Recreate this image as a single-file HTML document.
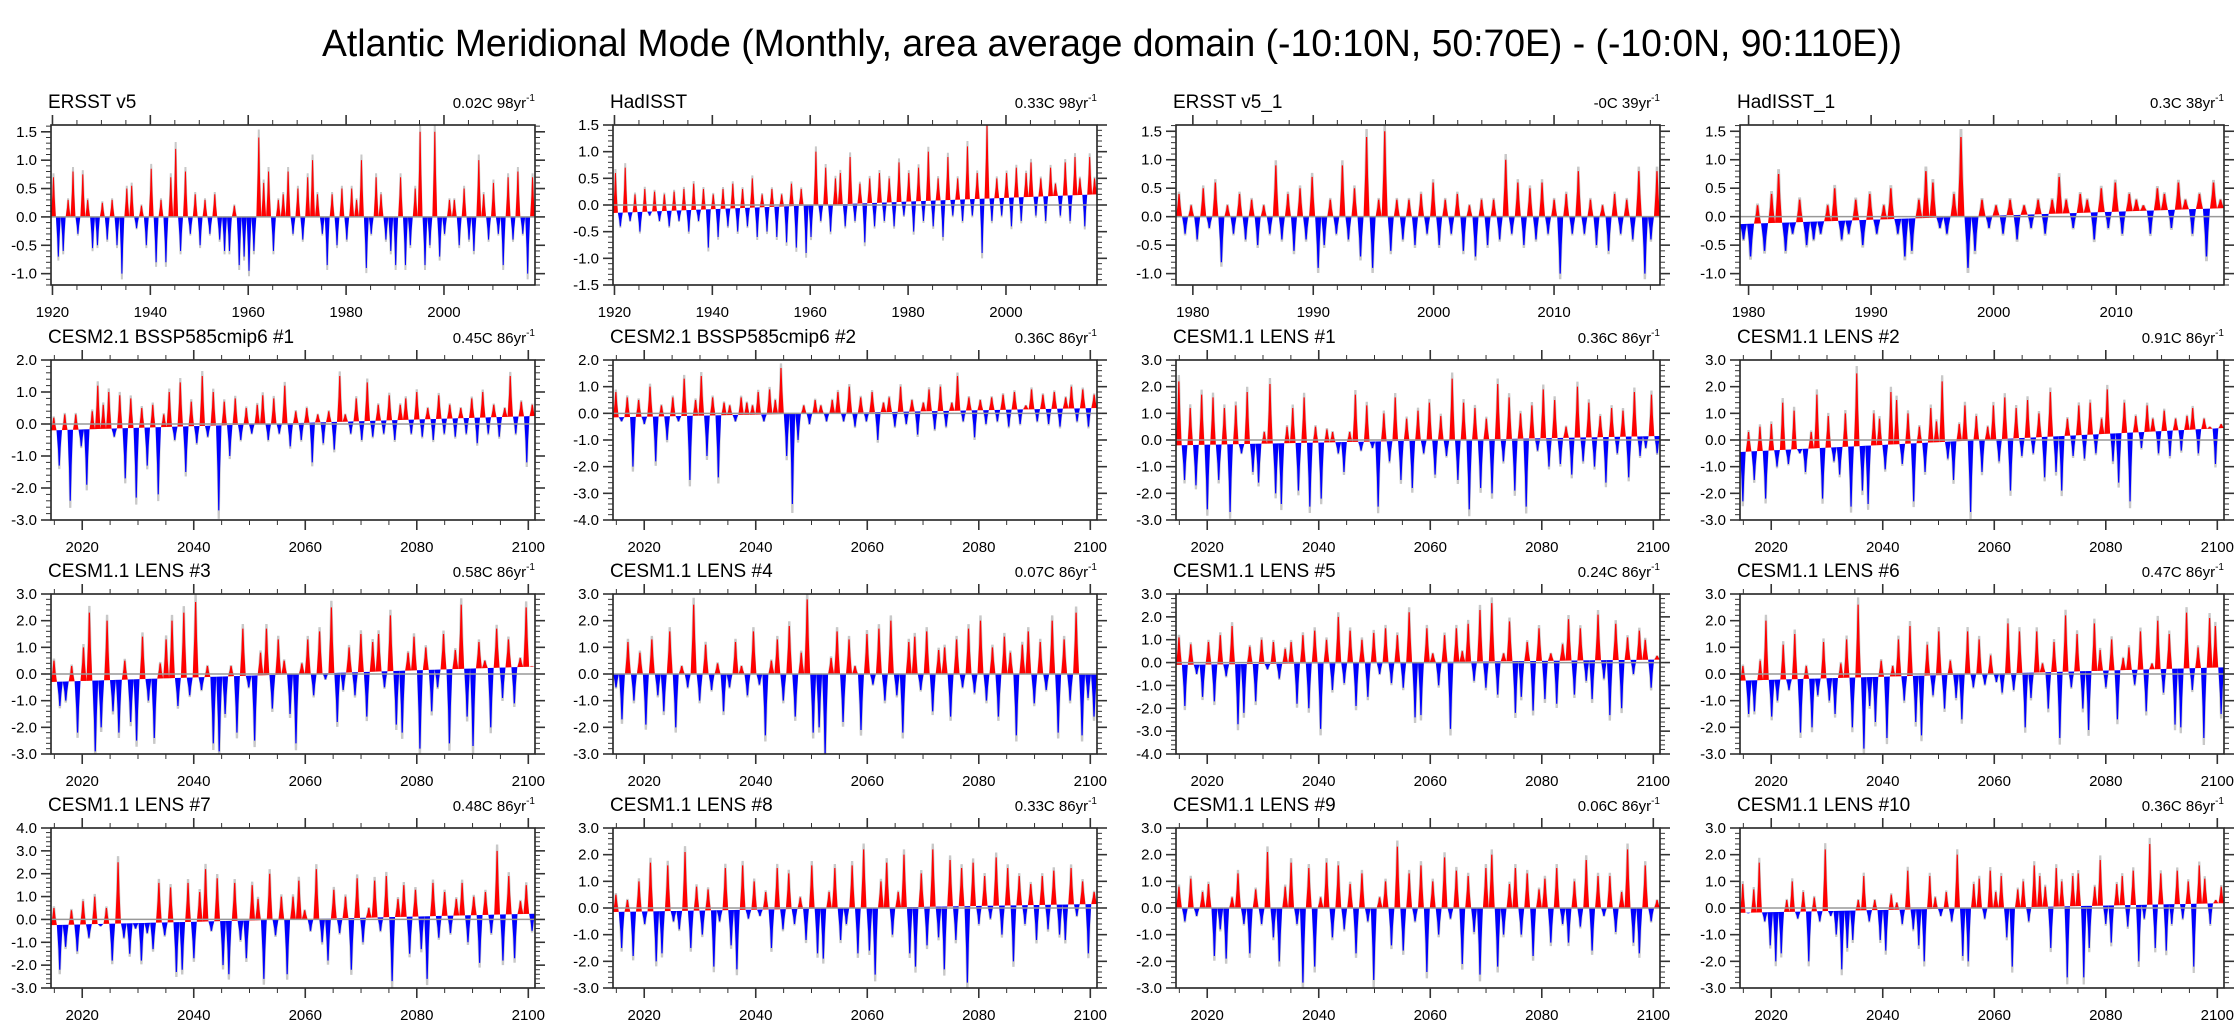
<!DOCTYPE html>
<html><head><meta charset="utf-8"><style>
html,body{margin:0;padding:0;background:#fff;}
svg{display:block;font-family:"Liberation Sans",Arial,sans-serif;}
</style></head><body>
<svg id="chart" width="2236" height="1026" viewBox="0 0 2236 1026" xmlns="http://www.w3.org/2000/svg">
<text x="1112" y="56" font-size="38" text-anchor="middle" textLength="1580" lengthAdjust="spacingAndGlyphs">Atlantic Meridional Mode (Monthly, area average domain (-10:10N, 50:70E) - (-10:0N, 90:110E))</text>
</svg>
<script>
// ---- data ----
const panelTitles = ["ERSST v5","HadISST","ERSST v5_1","HadISST_1","CESM2.1 BSSP585cmip6 #1","CESM2.1 BSSP585cmip6 #2","CESM1.1 LENS #1","CESM1.1 LENS #2","CESM1.1 LENS #3","CESM1.1 LENS #4","CESM1.1 LENS #5","CESM1.1 LENS #6","CESM1.1 LENS #7","CESM1.1 LENS #8","CESM1.1 LENS #9","CESM1.1 LENS #10"];
const trendLabels = ["0.02C 98yr","0.33C 98yr","-0C 39yr","0.3C 38yr","0.45C 86yr","0.36C 86yr","0.36C 86yr","0.91C 86yr","0.58C 86yr","0.07C 86yr","0.24C 86yr","0.47C 86yr","0.48C 86yr","0.33C 86yr","0.06C 86yr","0.36C 86yr"];
const yMins = [-1.2,-1.5,-1.2,-1.2,-3,-4,-3,-3,-3,-3,-4,-3,-3,-3,-3,-3];
const yMaxs = [1.62,1.5,1.61,1.61,2,2,3,3,3,3,3,3,4,3,3,3];
const xStarts = [1919.7,1919.7,1978.6,1979.3,2014.4,2014.4,2014.4,2014.4,2014.4,2014.4,2014.4,2014.4,2014.4,2014.4,2014.4,2014.4];
const xEnds = [2018.6,2018.6,2018.8,2018.8,2101.2,2101.2,2101.2,2101.2,2101.2,2101.2,2101.2,2101.2,2101.2,2101.2,2101.2,2101.2];
const trendStart = [0,-0.15,0,-0.13,-0.2,-0.15,-0.2,-0.45,-0.3,0,-0.1,-0.25,-0.25,-0.15,0,-0.18];
const trendEnd = [0,0.2,0,0.15,0.25,0.2,0.15,0.45,0.28,0,0.13,0.25,0.25,0.15,0,0.18];
const s1 = [0.7,-0.7,-0.6,0.3,0.8,-0.3,0.75,0.3,-0.55,-0.5,0.25,-0.4,0.3,-0.5,-1.0,0.5,0.55,-0.2,0.2,-0.5,0.85,-0.8,0.3,-0.8,0.7,1.2,-0.6,0.8,-0.3,0.4,-0.5,0.3,-0.3,0.4,-0.4,-0.6,-0.6,0.2,-0.85,-0.7,-0.95,-0.6,1.4,0.6,0.8,-0.6,0.3,0.4,0.8,-0.3,0.5,-0.4,0.7,1.0,0.4,-0.3,-0.85,0.4,-0.5,0.5,-0.4,0.5,0.3,1.0,-0.9,-0.3,0.7,0.4,-0.4,-0.6,-0.85,0.7,-0.85,-0.5,0.5,1.5,-0.85,-0.5,1.5,-0.7,-0.3,0.3,0.3,-0.5,0.5,-0.4,-0.6,1.0,0.4,-0.4,0.6,-0.3,-0.85,0.7,-0.4,0.8,-0.3,-1.0,0.7];
const s2 = [0.6,-0.4,0.7,-0.3,0.2,-0.5,0.3,-0.2,0.25,-0.3,0.2,-0.4,0.25,-0.3,0.3,-0.5,0.4,-0.3,0.3,-0.8,0.2,-0.6,0.3,-0.4,0.4,-0.5,0.3,-0.4,0.5,-0.6,0.2,-0.5,0.3,-0.6,0.2,-0.7,0.4,-0.8,0.3,-0.9,-0.6,1.0,-0.3,0.7,-0.5,0.5,0.6,-0.4,0.9,-0.3,0.4,-0.7,0.5,-0.4,0.6,-0.3,0.5,-0.4,0.8,-0.2,0.6,-0.5,0.7,-0.3,1.0,-0.4,0.5,-0.6,0.9,-0.2,0.5,-0.3,1.1,-0.2,0.6,-0.9,1.5,-0.3,0.5,-0.2,0.6,-0.4,0.7,-0.3,0.6,0.8,-0.2,0.5,-0.3,0.7,0.4,-0.2,0.8,-0.3,0.9,0.5,-0.4,0.9,0.5];
const s3 = [0.4,-0.3,0.2,-0.4,0.5,-0.2,0.6,-0.8,0.2,-0.3,0.4,-0.4,0.3,-0.5,0.2,-0.3,0.9,-0.4,0.4,-0.6,0.5,-0.4,0.7,-0.9,-0.5,0.3,-0.3,0.9,-0.4,0.5,-0.7,1.4,-0.9,0.3,1.5,-0.6,0.3,-0.4,0.3,-0.5,0.4,-0.3,0.6,-0.5,0.3,-0.3,0.4,-0.6,0.2,-0.7,0.3,-0.5,0.3,-0.4,1.0,-0.3,0.6,-0.5,0.5,-0.4,0.6,-0.3,0.3,-1.0,0.4,-0.3,0.8,-0.3,0.3,-0.5,0.2,-0.6,0.4,-0.3,0.3,-0.4,0.8,-1.0,-0.4,0.8];
const s4 = [-0.4,-0.7,0.2,-0.6,0.4,0.75,-0.6,-0.3,0.3,-0.5,-0.4,-0.3,0.2,0.5,-0.4,-0.3,0.3,-0.5,0.4,-0.3,0.2,0.5,-0.3,-0.7,-0.6,0.3,0.8,0.6,-0.2,-0.3,0.4,1.4,-0.9,-0.6,0.3,-0.2,0.2,-0.3,0.3,-0.4,0.2,-0.2,0.3,-0.3,0.3,0.7,0.3,-0.2,0.4,0.3,-0.4,0.5,-0.2,0.6,-0.3,0.4,0.3,0.2,-0.3,0.5,0.4,-0.2,0.6,0.3,-0.3,0.4,-0.7,0.6,0.3];
const s5 = [0.2,-1.3,0.3,-2.4,0.3,-0.7,-1.9,0.4,1.2,0.6,1.0,-0.4,0.9,-1.7,0.8,-2.3,0.5,-1.3,0.6,-2.2,0.3,1.0,-0.5,1.3,-1.5,0.7,-0.6,1.5,-0.4,1.0,-2.7,0.7,-1.0,0.8,-0.5,0.5,-0.3,0.6,0.9,-0.5,0.8,-0.3,1.2,-0.7,0.4,-0.5,0.5,-1.2,0.3,-0.6,0.4,-0.8,1.5,0.3,-0.3,0.8,-0.5,1.3,-0.4,0.6,-0.3,0.9,-0.5,0.6,0.8,-0.3,1.0,-0.4,0.5,-0.5,0.9,-0.3,0.6,-0.4,0.5,-0.3,0.8,-0.6,1.0,-0.3,0.6,-0.4,0.5,1.5,-0.3,0.7,-1.2,0.6];
const s6 = [0.8,-0.3,0.6,-2.0,0.5,-0.4,1.0,-1.8,0.3,-1.0,0.6,-0.3,1.3,-2.5,0.5,1.4,-1.6,0.6,-2.4,0.4,0.3,-0.3,0.6,0.4,0.3,0.8,-0.3,0.9,0.5,1.7,-1.6,-3.4,-1.0,0.3,-0.4,0.5,0.3,-0.3,0.5,0.8,-0.3,1.0,-0.5,0.6,-0.3,0.8,-1.0,0.4,0.6,-0.5,1.0,-0.4,0.5,-0.8,0.4,0.9,-0.6,1.0,-0.5,0.4,1.4,-0.3,0.6,-0.9,0.5,-0.4,0.6,-0.3,0.7,-0.5,0.8,-0.4,0.3,0.9,-0.3,0.7,-0.4,0.8,-0.5,0.6,1.0,-0.3,0.9,-0.5,0.7];
const s7 = [2.2,-1.5,1.2,-1.7,1.7,-2.6,1.6,-1.5,1.2,-2.7,1.3,-0.5,1.8,-1.2,-1.6,0.3,2.1,-2.0,-2.4,0.5,1.2,-1.9,1.6,-2.5,0.5,-2.2,0.4,0.3,-0.5,-1.2,0.3,1.7,-0.4,1.3,-0.3,-2.5,1.0,-0.8,1.6,-1.5,0.8,-1.8,1.1,-0.5,1.4,-1.3,0.9,-0.6,2.3,-1.5,1.4,-2.6,1.2,-1.8,0.8,-2.0,2.1,-0.8,1.6,-1.9,1.0,-2.5,1.3,-0.4,1.9,-1.0,1.5,-0.9,0.5,-1.3,2.0,-0.8,1.4,-1.0,0.9,-1.6,1.2,-0.5,1.1,-1.4,1.8,-0.6,-0.3,1.7,-0.5];
const s8 = [-2.3,0.3,-1.5,0.5,-2.2,0.6,-1.0,1.4,-0.9,1.1,-0.5,-1.2,0.3,1.7,-2.2,0.9,-0.8,-1.3,1.0,-2.5,2.5,-1.9,-2.4,1.0,0.8,-1.1,1.8,1.5,-0.9,1.0,-2.3,0.5,-1.2,1.2,0.7,2.2,-0.7,-1.5,0.6,1.3,-2.7,0.9,-1.2,0.5,1.3,-0.8,1.6,-1.9,1.2,-0.6,1.5,-0.5,1.0,-1.4,1.8,-1.2,-1.9,0.8,-0.6,1.3,-0.7,1.4,-0.5,0.8,1.9,-0.8,-1.6,1.4,-2.3,0.9,-0.3,1.3,0.8,-0.5,1.1,-0.6,0.8,-0.4,0.9,1.2,-0.5,0.8,0.5,-0.9,0.6];
const s9 = [0.5,-1.2,-1.0,0.3,-2.2,1.0,2.3,-2.9,-2.0,2.0,-1.4,-2.2,0.5,-1.8,-2.5,1.4,-1.0,-2.4,0.4,1.3,2.0,-1.2,2.3,-0.8,2.7,-0.6,0.3,-2.6,-2.9,-1.5,0.3,-2.2,1.7,-0.5,-2.5,0.8,1.7,-1.3,1.3,0.5,-1.5,-2.6,0.4,1.3,-0.8,1.6,-0.2,2.5,-1.8,-0.6,1.0,-0.8,1.5,-1.6,1.2,1.5,-0.5,2.2,-1.9,-2.2,0.8,1.4,-2.8,1.0,-1.4,-0.5,1.5,-2.6,0.9,2.6,-1.6,-2.7,1.2,0.5,-2.0,1.7,-0.9,1.3,-1.1,0.6,2.5,0.3];
const s10 = [-0.5,-1.7,1.2,-1.0,0.8,-1.9,1.3,-0.8,-1.4,1.6,-2.0,0.3,-0.5,2.6,-1.0,1.1,-0.6,0.4,-1.4,-0.5,1.2,0.3,-0.8,1.6,-0.4,-2.3,0.5,1.3,-1.0,1.8,-1.6,0.8,2.8,-2.2,-2.0,-3.0,0.6,1.6,-1.8,1.3,0.3,-2.1,1.5,-0.4,1.7,-1.0,2.0,-0.8,-2.2,1.2,1.4,-0.6,1.6,-1.4,0.9,1.0,-1.6,1.3,-0.5,1.7,-0.7,2.0,-1.0,1.0,-1.6,1.4,0.8,-2.3,1.1,1.6,-1.1,1.2,-0.6,2.0,-2.2,1.3,-1.0,2.3,-2.3,-0.9,-1.6];
const s11 = [1.1,-1.9,0.8,-0.5,-1.5,0.9,-1.7,1.2,-0.6,1.6,-2.7,-2.2,0.7,-1.7,1.0,-0.3,0.9,-0.7,0.6,0.9,-1.8,1.2,-2.0,1.4,-2.9,1.0,-1.2,2.0,-0.9,1.4,-1.9,1.0,-1.5,1.3,-0.5,1.5,-0.9,1.2,-1.1,2.2,-2.4,-2.3,1.5,0.4,-1.0,1.2,-2.9,1.5,0.5,1.7,-0.8,2.3,-1.1,2.6,-1.4,0.4,1.8,-2.2,-1.5,0.9,-2.1,1.5,-1.6,0.4,-1.8,0.8,1.9,-1.4,1.5,-0.8,-1.6,2.1,-0.7,-2.3,1.7,-2.0,1.1,-0.5,1.4,1.0,-1.1,0.3];
const s12 = [0.3,-1.5,-1.4,0.5,2.0,-1.6,-1.0,1.1,-0.6,1.5,-2.2,0.3,-2.0,-0.8,1.2,-1.0,-1.5,0.4,1.3,-2.0,2.6,-2.8,-1.2,-1.8,0.5,-2.4,0.3,1.3,-1.0,1.8,-1.8,-2.3,1.1,-0.8,1.6,-1.3,0.5,-0.9,-1.7,1.6,-0.5,1.3,-0.4,0.7,-0.3,-0.7,1.9,-0.6,1.6,-2.0,-0.9,1.6,0.4,-1.3,1.2,-2.4,2.2,-0.5,1.5,-1.3,-2.1,1.9,0.9,-0.5,1.3,-1.7,0.6,1.0,-0.4,1.6,-1.4,0.4,2.0,-0.7,1.5,-1.9,-2.0,2.3,-0.6,1.0,-2.4,2.1,1.8,-1.5];
const s13 = [0.5,-2.2,-1.2,0.4,-1.4,0.8,-0.8,1.0,-0.3,0.5,-1.8,2.5,-0.8,-1.5,-0.4,-1.8,-0.6,-1.3,1.6,-0.7,1.4,-2.3,-2.2,1.6,-1.7,1.2,2.2,-0.5,1.8,-2.0,-2.4,1.6,-0.9,-1.7,1.5,0.9,-2.6,2.0,-0.7,1.0,-2.4,1.0,1.7,0.4,-0.5,2.2,-1.0,-1.8,1.3,-0.6,1.0,-2.2,1.8,-1.0,0.5,1.7,-0.5,1.9,-2.7,0.9,1.5,-1.5,1.3,-1.3,-2.6,1.6,-0.8,1.2,-0.6,0.9,1.6,-1.0,1.0,-1.9,1.2,-0.6,3.0,-1.8,1.9,-1.7,0.8,1.5,-0.5];
const s14 = [0.5,-1.5,0.3,-1.8,1.0,-0.6,1.7,-2.0,-1.7,1.6,-0.5,-0.8,2.1,-1.5,0.8,-1.0,0.7,-2.2,-0.5,1.5,-1.4,-2.3,1.6,-0.4,1.0,-0.3,0.6,-1.5,1.5,-0.8,1.3,-0.6,0.4,-1.2,1.6,-1.7,-1.9,0.6,1.5,-1.2,-0.6,1.6,-1.7,2.2,-1.6,-2.5,1.0,1.7,-1.0,0.6,2.0,-1.7,-2.2,1.3,-1.4,2.2,-1.1,-2.3,1.8,-1.2,1.5,-2.8,1.7,-0.6,1.2,-0.4,1.9,-1.0,1.5,-2.0,1.2,-0.6,0.9,-1.2,1.2,-0.8,1.4,-1.0,-1.2,1.5,-0.3,1.0,-1.7,0.6];
const s15 = [0.8,-0.5,1.1,-0.3,0.6,0.9,-1.8,-0.8,-1.9,0.4,1.3,-0.6,-1.7,0.7,-0.6,2.1,-1.1,-2.0,0.8,1.7,-0.6,-2.8,1.5,-2.2,0.4,1.7,-1.1,1.6,-0.8,0.9,-1.7,1.3,-0.5,-2.7,0.4,1.0,-1.4,2.3,-1.6,1.3,-0.5,1.6,-2.4,1.0,-1.0,1.9,-0.4,1.4,-2.1,1.2,-0.9,-2.5,1.5,2.0,-2.2,-1.0,0.9,1.5,-1.0,1.3,-1.8,0.7,1.1,-1.3,1.5,-0.6,-1.3,1.0,-0.7,1.8,-1.6,1.2,-0.3,1.2,-0.9,0.6,2.2,-1.3,-1.7,1.6,-0.5,0.3];
const s16 = [0.9,-0.2,0.7,1.7,-0.5,-1.4,-2.0,-1.7,0.3,1.0,-0.4,0.6,-2.0,0.4,-0.5,2.2,-0.3,-1.0,-2.3,-1.5,-1.2,0.3,1.2,-0.5,0.3,-1.2,-1.6,0.5,0.2,-0.6,1.4,-0.8,-1.4,-2.0,1.2,0.4,-0.3,0.6,-0.5,2.0,-1.8,-2.0,0.9,1.1,-0.4,1.4,0.6,1.2,-1.1,-2.2,0.7,1.0,-0.5,1.6,1.2,0.8,-1.5,1.5,1.0,-2.6,1.2,1.3,-2.6,-1.5,0.8,1.8,-0.6,-1.3,0.9,1.2,-0.7,1.4,-2.0,-0.4,2.4,-1.5,1.3,-1.6,-0.6,1.4,-0.4,1.0,-2.2,1.6,1.1,-0.6,0.3,0.8];
const series = [s1,s2,s3,s4,s5,s6,s7,s8,s9,s10,s11,s12,s13,s14,s15,s16];

// ---- layout ----
const NS = "http://www.w3.org/2000/svg";
const svg = document.getElementById('chart');
const colLefts = [51, 613, 1176, 1740];
const rowTops = [125, 360, 594, 828];
const PW = 484, PH = 160;

function mk(tag, attrs, parent) {
  const e = document.createElementNS(NS, tag);
  for (const k in attrs) e.setAttribute(k, attrs[k]);
  (parent || svg).appendChild(e);
  return e;
}

for (let p = 0; p < 16; p++) {
  const L = colLefts[p % 4], T = rowTops[Math.floor(p / 4)];
  const R = L + PW, B = T + PH;
  const g = mk('g', {});
  
  
  const xs = t => L + (t - xStarts[p]) / (xEnds[p] - xStarts[p]) * PW;
  const ys = v => B - (v - yMins[p]) / (yMaxs[p] - yMins[p]) * PH;

  const tl = mk('text', {x: L - 3, y: T - 17, 'font-size': 19}, g);
  tl.textContent = panelTitles[p];
  
  
  const tr = mk('text', {x: R, y: T - 17, 'font-size': 15, 'text-anchor': 'end'}, g);
  
  
  tr.appendChild(document.createTextNode(trendLabels[p]));
  const sup = mk('tspan', {dy: -7, 'font-size': 10}, tr);
  sup.textContent = '-1';

  const data = series[p];
  const N = data.length;
  const step = (xEnds[p] - xStarts[p]) / N;
  const tBase = t => trendStart[p] + (trendEnd[p] - trendStart[p]) * (t - xStarts[p]) / (xEnds[p] - xStarts[p]);
  const clipId = 'clip' + p;
  const cp = mk('clipPath', {id: clipId}, g);
  mk('rect', {x: L, y: T, width: PW, height: PH}, cp);
  const sg = mk('g', {'clip-path': 'url(#' + clipId + ')'}, g);
  
  
  for (let i = 0; i < N; i++) {
    const tc = xStarts[p] + (i + 0.5) * step;
    const ta = tc - step * 0.5, tb = tc + step * 0.5;
    const v = data[i];
    const b0 = tBase(ta), b1 = tBase(tb), bc = tBase(tc);
    const vg = bc + (v - bc) * 1.1;
    const gp = mk('polygon', {points: `${xs(ta)},${ys(b0)} ${xs(tc - step*0.2)},${ys(vg)} ${xs(tc + step*0.2)},${ys(vg)} ${xs(tb)},${ys(b1)}`, fill: '#c8c8c8'}, sg);
    
    
    const sp = mk('polygon', {points: `${xs(ta)},${ys(b0)} ${xs(tc - step*0.22)},${ys(bc + (v-bc)*0.55)} ${xs(tc - step*0.1)},${ys(v)} ${xs(tc + step*0.1)},${ys(v)} ${xs(tc + step*0.25)},${ys(bc + (v-bc)*0.5)} ${xs(tb)},${ys(b1)}`, fill: v >= bc ? '#ff0000' : '#0000ff'}, sg);
    
    
  }
  const zl = mk('line', {x1: L, x2: R, y1: ys(0), y2: ys(0), stroke: '#999', 'stroke-width': 1.5}, g);
  
  

  const bx = mk('rect', {x: L, y: T, width: PW, height: PH, fill: 'none', stroke: '#222', 'stroke-width': 1.6}, g);
  
  

  let major, minor;
  if (p === 2 || p === 3) { major = 10; minor = 2; } else { major = 20; minor = 5; }
  for (let t = Math.ceil(xStarts[p] / minor) * minor; t <= xEnds[p]; t += minor) {
    const isMaj = (t % major) === 0;
    const len = isMaj ? 10 : 5;
    const x = xs(t);
    mk('line', {x1: x, x2: x, y1: T, y2: T - len, stroke: '#333', 'stroke-width': isMaj ? 1.6 : 1}, g);
    mk('line', {x1: x, x2: x, y1: B, y2: B + len, stroke: '#333', 'stroke-width': isMaj ? 1.6 : 1}, g);
    if (isMaj) {
      const lb = mk('text', {x: x, y: B + 32, 'font-size': 15, 'text-anchor': 'middle'}, g);
      lb.textContent = String(t);
      
      
    }
  }
  const yMaj = p < 4 ? 0.5 : 1.0, yMin = p < 4 ? 0.1 : 0.2;
  const kStart = Math.ceil(yMins[p] / yMin - 1e-6), kEnd = Math.floor(yMaxs[p] / yMin + 1e-6);
  for (let k = kStart; k <= kEnd; k++) {
    const v = k * yMin;
    const isMaj = Math.abs(v / yMaj - Math.round(v / yMaj)) < 1e-6;
    const len = isMaj ? 10 : 5;
    const y = ys(v);
    mk('line', {x1: L, x2: L - len, y1: y, y2: y, stroke: '#333', 'stroke-width': isMaj ? 1.6 : 1}, g);
    mk('line', {x1: R, x2: R + len, y1: y, y2: y, stroke: '#333', 'stroke-width': isMaj ? 1.6 : 1}, g);
    if (isMaj) {
      const lb = mk('text', {x: L - 14, y: y + 5, 'font-size': 15, 'text-anchor': 'end'}, g);
      lb.textContent = (Math.abs(v) < 1e-9 ? 0 : v).toFixed(1);
      
      
    }
  }
}
</script>
</body></html>
